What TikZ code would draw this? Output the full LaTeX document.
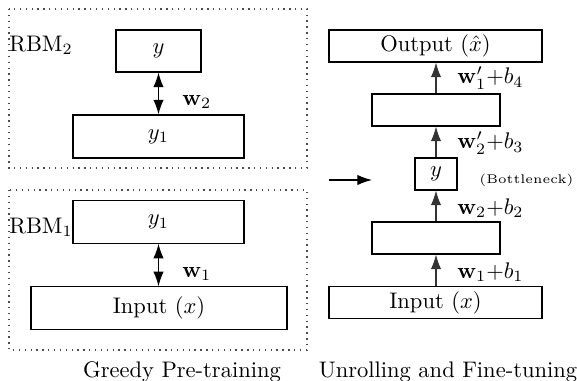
\documentclass[tikz,border=0pt]{standalone}
\usetikzlibrary{arrows.meta}
\begin{document}
\begin{tikzpicture}[x=0.444pt,y=-0.444pt,
  layer/.style={draw,line width=0.5pt,inner sep=0pt,font=\normalsize},
  dotbox/.style={draw=black!70,dotted,line width=0.6pt},
  uparrow/.style={draw=black!80,line width=0.5pt,-{Latex[length=6.5pt,width=4.6pt]}},
  bothway/.style={draw,line width=0.5pt,{Latex[length=6.5pt,width=4.6pt]}-{Latex[length=6.5pt,width=4.6pt]}},
  lbl/.style={anchor=west,inner sep=0pt}]
\useasboundingbox (0,0) rectangle (577,380);
% dotted RBM boxes
\draw[dotbox] (9,9) rectangle (307,168);
\draw[dotbox] (9,190) rectangle (307,350);
% left column
\node[layer,minimum width=37.7pt,minimum height=18.6pt] (ly) at (158.5,51) {$y$};
\node[layer,minimum width=75.9pt,minimum height=19.1pt] (ly1a) at (158.5,136.5) {$y_1$};
\node[layer,minimum width=75.9pt,minimum height=18.8pt] (ly1b) at (158.5,222) {$y_1$};
\node[layer,minimum width=113.7pt,minimum height=18.8pt] (lin) at (159,308) {Input $(x)$};
\draw[bothway] (ly.south) -- (ly1a.north);
\draw[bothway] (ly1b.south) -- (lin.north-|ly1b.south);
\node[lbl] (lw2) at (182,102) {$\mathbf{w}_2$};
\node[lbl] (lw1) at (182,274) {$\mathbf{w}_1$};
\node[lbl] (rbm2) at (9,45) {RBM$_2$};
\node[lbl] (rbm1) at (9,227) {RBM$_1$};
% right column
\node[layer,minimum width=94.6pt,minimum height=14.2pt] (rout) at (435.5,46) {Output $(\hat{x})$};
\node[layer,minimum width=56.8pt,minimum height=14.2pt] (rh2) at (436,110) {};
\node[layer,minimum width=18.6pt,minimum height=14.2pt] (ry) at (436,174) {$y$};
\node[layer,minimum width=56.8pt,minimum height=14.2pt] (rh1) at (436,238) {};
\node[layer,minimum width=94.6pt,minimum height=14.0pt] (rin) at (435.5,302.5) {Input $(x)$};
\draw[uparrow] (rin.north-|rh1.south) -- (rh1.south);
\draw[uparrow] (rh1.north) -- (ry.south);
\draw[uparrow] (ry.north) -- (rh2.south);
\draw[uparrow] (rh2.north) -- (rout.south-|rh2.north);
\node[lbl] (l4) at (457,78) {$\mathbf{w}'_1{+}b_4$};
\node[lbl] (l3) at (457,143) {$\mathbf{w}'_2{+}b_3$};
\node[lbl] (l2) at (457,208) {$\mathbf{w}_2{+}b_2$};
\node[lbl] (l1) at (457,272) {$\mathbf{w}_1{+}b_1$};
\node[lbl] (bn) at (479,180) {\scalebox{1.12}{\tiny (Bottleneck)}};
% transfer arrow
\coordinate (ts) at (329,180);
\coordinate (te) at (372,180);
\draw[uparrow,draw=black] (ts) -- (te);
% titles
\node (t1) at (182,372) {Greedy Pre-training};
\node (t2) at (448,372) {Unrolling and Fine-tuning};
\end{tikzpicture}
\end{document}
